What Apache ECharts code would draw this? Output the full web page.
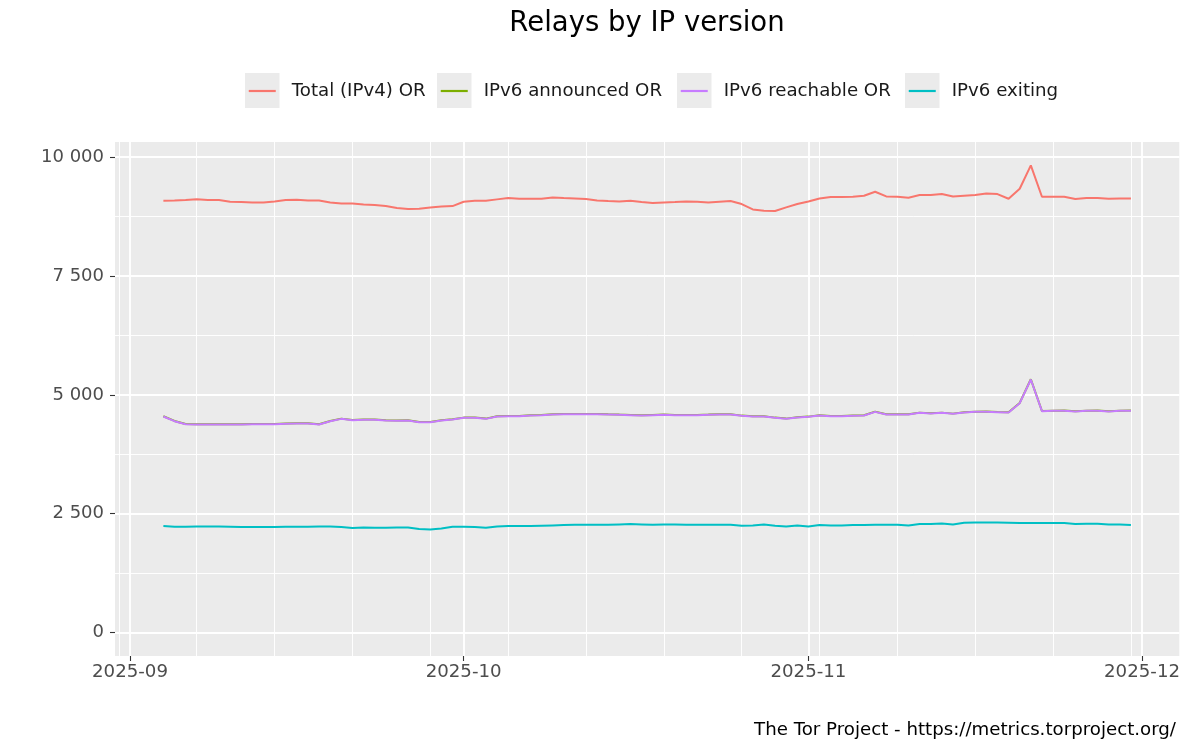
<!DOCTYPE html>
<html>
<head>
<meta charset="utf-8">
<script src="https://cdn.jsdelivr.net/npm/echarts@6/dist/echarts.min.js"></script>
<style>
html,body{margin:0;padding:0;background:#ffffff;}
#chart{width:1200px;height:750px;}
</style>
</head>
<body>
<div id="chart"></div>
<script>
// ---- data ----
const dates = [
 '2025-09-04','2025-09-05','2025-09-06','2025-09-07','2025-09-08','2025-09-09','2025-09-10','2025-09-11','2025-09-12','2025-09-13',
 '2025-09-14','2025-09-15','2025-09-16','2025-09-17','2025-09-18','2025-09-19','2025-09-20','2025-09-21','2025-09-22','2025-09-23',
 '2025-09-24','2025-09-25','2025-09-26','2025-09-27','2025-09-28','2025-09-29','2025-09-30',
 '2025-10-01','2025-10-02','2025-10-03','2025-10-04','2025-10-05','2025-10-06','2025-10-07','2025-10-08','2025-10-09','2025-10-10',
 '2025-10-11','2025-10-12','2025-10-13','2025-10-14','2025-10-15','2025-10-16','2025-10-17','2025-10-18','2025-10-19','2025-10-20',
 '2025-10-21','2025-10-22','2025-10-23','2025-10-24','2025-10-25','2025-10-26','2025-10-27','2025-10-28','2025-10-29','2025-10-30','2025-10-31',
 '2025-11-01','2025-11-02','2025-11-03','2025-11-04','2025-11-05','2025-11-06','2025-11-07','2025-11-08','2025-11-09','2025-11-10',
 '2025-11-11','2025-11-12','2025-11-13','2025-11-14','2025-11-15','2025-11-16','2025-11-17','2025-11-18','2025-11-19','2025-11-20',
 '2025-11-21','2025-11-22','2025-11-23','2025-11-24','2025-11-25','2025-11-26','2025-11-27','2025-11-28','2025-11-29','2025-11-30'
];

const totalIPv4OR = [
 9081,9085,9095,9110,9095,9095,9060,9053,9046,9046,9067,9095,9102,9088,9088,9046,9025,9025,9004,8990,8969,8927,8906,8913,8941,8962,8969,
 9060,9081,9081,9110,9138,9123,9123,9123,9151,9138,9130,9116,9088,9074,9067,9081,9053,9032,9046,9053,9067,9060,9046,9060,9074,9011,8899,8870,8864,8941,9011,
 9067,9130,9158,9158,9165,9186,9270,9172,9165,9144,9200,9200,9221,9172,9186,9200,9235,9221,9123,9333,9825,9165,9165,9165,9116,9137,9137,9123,9130,9130
];

const ipv6AnnouncedOR = [
 4549,4451,4388,4381,4381,4382,4381,4381,4388,4389,4388,4395,4402,4403,4381,4451,4500,4472,4479,4480,4465,4458,4465,4430,4431,4465,4486,
 4521,4522,4500,4549,4556,4557,4570,4577,4591,4598,4599,4598,4599,4591,4584,4578,4570,4577,4584,4578,4577,4578,4584,4591,4592,4563,4549,4550,4521,4500,4528,
 4542,4570,4557,4556,4563,4570,4647,4591,4592,4591,4626,4613,4626,4605,4633,4647,4648,4640,4633,4830,5328,4661,4668,4669,4654,4668,4669,4654,4668,4669
];

const ipv6ReachableOR = [
 4544,4446,4383,4376,4376,4376,4376,4376,4383,4383,4383,4390,4397,4397,4376,4446,4495,4467,4474,4474,4460,4453,4460,4425,4425,4460,4481,
 4516,4516,4495,4544,4551,4551,4565,4572,4586,4593,4593,4593,4593,4586,4579,4572,4565,4572,4579,4572,4572,4572,4579,4586,4586,4558,4544,4544,4516,4495,4523,
 4537,4565,4551,4551,4558,4565,4642,4586,4586,4586,4621,4607,4621,4600,4628,4642,4642,4635,4628,4825,5323,4656,4663,4663,4649,4663,4663,4649,4663,4663
];

const ipv6Exiting = [
 2241,2227,2227,2234,2234,2234,2227,2220,2220,2220,2220,2227,2227,2227,2234,2234,2220,2198,2212,2205,2205,2212,2212,2177,2170,2191,2227,
 2227,2220,2205,2234,2241,2241,2241,2248,2255,2262,2269,2269,2269,2269,2276,2283,2276,2269,2276,2276,2269,2269,2269,2269,2269,2248,2255,2276,2248,2234,2255,
 2234,2262,2255,2255,2262,2262,2269,2269,2269,2255,2283,2283,2297,2276,2311,2318,2318,2318,2311,2304,2304,2304,2304,2304,2283,2290,2290,2276,2276,2262
];

const seriesNames = ['Total (IPv4) OR', 'IPv6 announced OR', 'IPv6 reachable OR', 'IPv6 exiting'];
const seriesColors = ['#F8766D', '#7CAE00', '#C77CFF', '#00BFC4'];

const monthTicks = ['2025-09-01','2025-10-01','2025-11-01','2025-12-01'];
const weekTicks = ['2025-08-31','2025-09-07','2025-09-14','2025-09-21','2025-09-28','2025-10-05','2025-10-12',
                   '2025-10-19','2025-10-26','2025-11-02','2025-11-09','2025-11-16','2025-11-23','2025-11-30'];
const yTicks = [0, 2500, 5000, 7500, 10000];
const yMinorTicks = [1250, 3750, 6250, 8750];

// ---- helpers ----
function toMs(s) { const p = s.split('-').map(Number); return Date.UTC(p[0], p[1] - 1, p[2]); }
function fmtNum(v) { return String(Math.round(v)).replace(/\B(?=(\d{3})+(?!\d))/g, ' '); }
function fmtMonth(v) { const d = new Date(v); const m = d.getUTCMonth() + 1; return d.getUTCFullYear() + '-' + (m < 10 ? '0' + m : m); }

const allSeries = [totalIPv4OR, ipv6AnnouncedOR, ipv6ReachableOR, ipv6Exiting];
const t0 = toMs(dates[0]), t1 = toMs(dates[dates.length - 1]);
const tSpan = t1 - t0;
const xMin = t0 - 0.05 * tSpan, xMax = t1 + 0.05 * tSpan;
const vMax = Math.max.apply(null, allSeries.map(a => Math.max.apply(null, a)));
const vMin = 0;
const yMin = vMin - 0.05 * (vMax - vMin), yMax = vMax + 0.05 * (vMax - vMin);

const FONT = 'DejaVu Sans';
const legendBoxLeft = [245, 437, 677, 905];

const chart = echarts.init(document.getElementById('chart'), null, { renderer: 'canvas' });

const option = {
  animation: false,
  backgroundColor: '#ffffff',
  title: [
    { text: 'Relays by IP version', left: 642, top: 5, textAlign: 'center',
      textStyle: { fontFamily: FONT, fontSize: 27.5, fontWeight: 'normal', color: '#000000' } },
    { text: 'The Tor Project - https://metrics.torproject.org/', right: 19, top: 716,
      textStyle: { fontFamily: FONT, fontSize: 18.2, fontWeight: 'normal', color: '#000000' } }
  ],
  graphic: legendBoxLeft.map(x => ({
    type: 'rect', z: 0, silent: true,
    shape: { x: x, y: 73, width: 34.5, height: 35 },
    style: { fill: '#EBEBEB' }
  })),
  legend: seriesNames.map((n, i) => ({
    data: [n], left: legendBoxLeft[i] + 3.75, top: 81, z: 20,
    icon: 'rect', itemWidth: 27, itemHeight: 2.2, padding: 0, itemGap: 0,
    selectedMode: false,
    textStyle: { fontFamily: FONT, fontSize: 18.2, color: '#1a1a1a', lineHeight: 20, padding: [0, 0, 0, 11] }
  })),
  grid: {
    left: 115, right: 20.7, top: 142, bottom: 94,
    show: true, backgroundColor: '#EBEBEB', borderWidth: 0, containLabel: false
  },
  xAxis: [
    {
      type: 'value', min: xMin, max: xMax,
      axisLine: { show: false, onZero: false },
      axisTick: { show: true, length: 5, lineStyle: { color: '#333333', width: 1.1 },
                  customValues: monthTicks.map(toMs) },
      axisLabel: { show: true, customValues: monthTicks.map(toMs), formatter: fmtMonth,
                   fontFamily: FONT, fontSize: 18.2, color: '#4D4D4D', margin: 7,
                   showMinLabel: true, showMaxLabel: true, hideOverlap: false },
      splitLine: { show: true, lineStyle: { color: '#ffffff', width: 1.9 } }
    },
    {
      type: 'value', min: xMin, max: xMax, position: 'bottom',
      axisLine: { show: false, onZero: false },
      axisTick: { show: false, customValues: weekTicks.map(toMs) },
      axisLabel: { show: false, customValues: weekTicks.map(toMs) },
      splitLine: { show: true, lineStyle: { color: '#ffffff', width: 0.95 } }
    }
  ],
  yAxis: [
    {
      type: 'value', min: yMin, max: yMax,
      axisLine: { show: false, onZero: false },
      axisTick: { show: true, length: 5, lineStyle: { color: '#333333', width: 1.1 }, customValues: yTicks },
      axisLabel: { show: true, customValues: yTicks, formatter: fmtNum,
                   fontFamily: FONT, fontSize: 18, color: '#4D4D4D', margin: 11,
                   showMinLabel: true, showMaxLabel: true },
      splitLine: { show: true, lineStyle: { color: '#ffffff', width: 1.9 } }
    },
    {
      type: 'value', min: yMin, max: yMax, position: 'left',
      axisLine: { show: false, onZero: false },
      axisTick: { show: false, customValues: yMinorTicks },
      axisLabel: { show: false, customValues: yMinorTicks },
      splitLine: { show: true, lineStyle: { color: '#ffffff', width: 0.95 } }
    }
  ],
  series: allSeries.map((arr, i) => ({
    name: seriesNames[i],
    type: 'line',
    xAxisIndex: 0, yAxisIndex: 0,
    color: seriesColors[i],
    showSymbol: false,
    symbol: 'none',
    lineStyle: { width: 2, color: seriesColors[i] },
    z: 3 + i,
    data: dates.map((d, j) => [toMs(d), arr[j]])
  }))
};

chart.setOption(option);
</script>
</body>
</html>
